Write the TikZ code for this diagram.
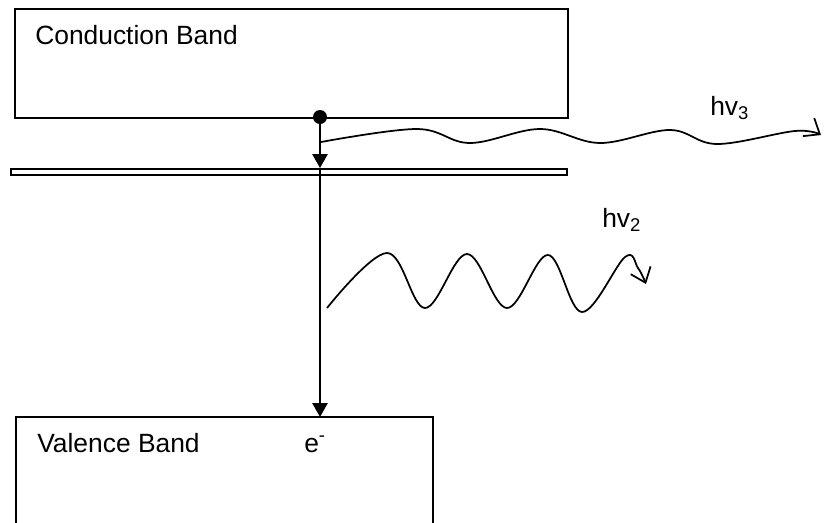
\documentclass[tikz,border=0pt]{standalone}
\usepackage{fontspec}
\setmainfont{Liberation Sans}
\usetikzlibrary{arrows.meta}
\begin{document}
\begin{tikzpicture}[x=0.75pt,y=-0.75pt,
  band/.style={draw,line width=1.3pt,inner sep=0pt,anchor=north west},
  lbl/.style={anchor=base west,inner sep=0pt,font=\fontsize{19.8}{24}\selectfont},
  drop/.style={line width=1.3pt,-{Triangle[length=10.5pt,width=11.5pt]}},
  photon/.style={line width=1.3pt,-{Straight Barb[length=10pt,width=16pt,line width=1.3pt]}}]
\useasboundingbox (0,0) rectangle (833,522);
% conduction band
\node[band,minimum width=414.75pt,minimum height=81.75pt] (cb) at (14,8) {};
\node[lbl] (cbl) at (35,44) {Conduction Band};
% trap level
\node[band,minimum width=417pt,minimum height=4.5pt] (trap) at (10,168) {};
% valence band (open at the bottom)
\coordinate (vbl) at (16,417);
\coordinate (vbr) at (433,417);
\draw[line width=1.3pt] (16,530) -- (vbl) -- (vbr) -- (433,530);
\node[lbl] (vbt) at (37,452) {Valence Band};
\node[lbl] (el) at (304,452) {e\textsuperscript{-}};
% electron
\node[circle,fill,inner sep=0pt,minimum size=10.5pt] (e) at (320,117) {};
\draw[drop] (e.center) -- (trap.north -| e.center);
\draw[drop] (trap.north -| e.center) -- (vbl -| e.center);
% photons
\coordinate (p3s) at (321,142);
\draw[photon] plot[smooth,tension=0.6] coordinates {(p3s) (417,129) (470,143) (540,129) (600,143) (670,130) (717,144) (795,131) (821,135)};
\node[lbl] (hv3) at (710,115) {hv\textsubscript{3}};
\coordinate (p2s) at (327,308);
\draw[photon] plot[smooth,tension=0.6] coordinates {(p2s) (387,253) (425,308) (467,254) (507,308) (548,255) (582,312) (625,257) (638,268) (646,284)};
\node[lbl] (hv2) at (602,227) {hv\textsubscript{2}};
\end{tikzpicture}
\end{document}
